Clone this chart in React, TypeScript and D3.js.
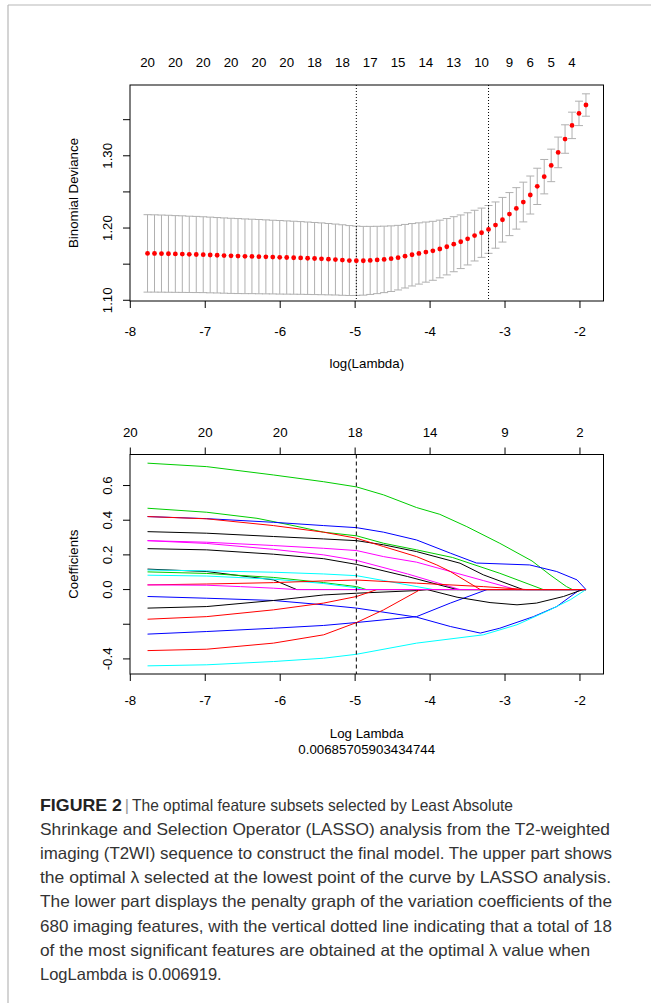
import React from 'react'
import * as d3 from 'd3'

// cross-validation curve (upper panel)
const cvLogLambda = [
  -7.77, -7.677, -7.584, -7.491, -7.399, -7.306, -7.213, -7.12, -7.027, -6.934,
  -6.841, -6.749, -6.656, -6.563, -6.47, -6.377, -6.284, -6.191, -6.099, -6.006,
  -5.913, -5.82, -5.727, -5.634, -5.541, -5.449, -5.356, -5.263, -5.17, -5.077,
  -4.984, -4.891, -4.799, -4.706, -4.613, -4.52, -4.427, -4.334, -4.241, -4.149,
  -4.056, -3.963, -3.87, -3.777, -3.684, -3.591, -3.499, -3.406, -3.313, -3.22,
  -3.127, -3.034, -2.941, -2.849, -2.756, -2.663, -2.57, -2.477, -2.384, -2.291,
  -2.199, -2.106, -2.013, -1.92,
]
const cvMean = [
  1.1649, 1.1648, 1.1646, 1.1644, 1.1641, 1.1639, 1.1636, 1.1634, 1.1631, 1.1627,
  1.1623, 1.1619, 1.1615, 1.1612, 1.1609, 1.1607, 1.1604, 1.1601, 1.1598, 1.1595,
  1.1592, 1.1589, 1.1586, 1.1582, 1.1578, 1.1574, 1.1569, 1.1564, 1.1557, 1.155,
  1.1547, 1.1547, 1.1552, 1.1558, 1.1566, 1.1576, 1.159, 1.161, 1.163, 1.1648,
  1.1667, 1.1685, 1.171, 1.1741, 1.1776, 1.181, 1.185, 1.1895, 1.1935, 1.1981,
  1.2041, 1.2115, 1.2193, 1.2272, 1.236, 1.2457, 1.2577, 1.2711, 1.2867, 1.3047,
  1.3232, 1.3421, 1.3587, 1.3703,
]
const cvSE = [
  0.0536, 0.0535, 0.0534, 0.0533, 0.0531, 0.053, 0.0528, 0.0527, 0.0525, 0.0524,
  0.0522, 0.0521, 0.052, 0.0519, 0.0517, 0.0515, 0.0514, 0.0512, 0.051, 0.0509,
  0.0507, 0.0505, 0.0503, 0.0501, 0.0499, 0.0497, 0.0494, 0.0491, 0.0488, 0.0484,
  0.048, 0.0476, 0.0471, 0.0466, 0.046, 0.0454, 0.0447, 0.044, 0.0432, 0.0424,
  0.0416, 0.0408, 0.0399, 0.039, 0.0381, 0.0371, 0.0361, 0.0351, 0.0341, 0.0331,
  0.032, 0.0309, 0.0298, 0.0287, 0.0275, 0.0263, 0.0251, 0.0238, 0.0225, 0.0212,
  0.0197, 0.0183, 0.0169, 0.0155,
]
const cvTopIdx = [0, 4, 8, 12, 16, 20, 24, 28, 32, 36, 40, 44, 48, 52, 55, 58, 61]
const cvTopLabels = ['20', '20', '20', '20', '20', '20', '18', '18', '17', '15', '14', '13', '10', '9', '6', '5', '4']
const lambdaMinLog = -4.984
const lambda1seLog = -3.22
const cvYTicks = [1.1, 1.15, 1.2, 1.25, 1.3, 1.35]
const cvYTickLabels = ['1.10', '', '1.20', '', '1.30', '']

const xTicks = [-8, -7, -6, -5, -4, -3, -2]
const xTickLabels = ['-8', '-7', '-6', '-5', '-4', '-3', '-2']

// coefficient paths (lower panel), [log lambda, coefficient]
const coefTopLabels = ['20', '20', '20', '18', '14', '9', '2']
const coefYTicks = [-0.4, -0.2, 0, 0.2, 0.4, 0.6]
const coefYTickLabels = ['-0.4', '', '0.0', '0.2', '0.4', '0.6']

const coefPaths: [number, number][][] = [
  [[-7.77, 0.729], [-6.98, 0.709], [-6.09, 0.661], [-5.42, 0.622], [-4.98, 0.592], [-4.62, 0.546], [-4.18, 0.473], [-3.87, 0.434], [-3.51, 0.363], [-3.07, 0.267], [-2.64, 0.165], [-2.4, 0.085], [-2.18, 0.017], [-2.1, 0], [-1.92, 0]],
  [[-7.77, 0.469], [-6.98, 0.446], [-6.31, 0.411], [-5.87, 0.373], [-5.42, 0.331], [-4.98, 0.31], [-4.62, 0.267], [-4.18, 0.229], [-3.7, 0.185], [-3.07, 0.094], [-2.49, 0], [-1.92, 0]],
  [[-7.77, 0.421], [-6.98, 0.409], [-6.09, 0.388], [-5.42, 0.369], [-4.98, 0.357], [-4.62, 0.331], [-4.18, 0.286], [-3.73, 0.21], [-3.38, 0.153], [-2.67, 0.142], [-2.31, 0.104], [-2.04, 0.056], [-1.92, 0]],
  [[-7.77, 0.334], [-6.98, 0.325], [-6.09, 0.306], [-5.42, 0.292], [-4.98, 0.282], [-4.62, 0.258], [-4.18, 0.219], [-3.6, 0.152], [-3.29, 0.085], [-2.76, 0], [-1.92, 0]],
  [[-7.77, 0.282], [-6.98, 0.273], [-6.09, 0.254], [-5.42, 0.238], [-4.98, 0.225], [-4.62, 0.19], [-4.18, 0.158], [-3.29, 0.052], [-2.85, 0], [-1.92, 0]],
  [[-7.77, 0.282], [-6.98, 0.266], [-6.09, 0.232], [-5.42, 0.2], [-4.98, 0.168], [-4.3, 0.09], [-3.6, 0], [-1.92, 0]],
  [[-7.77, 0.236], [-6.98, 0.229], [-6.09, 0.204], [-5.42, 0.178], [-4.98, 0.145], [-4.3, 0.075], [-3.64, 0], [-1.92, 0]],
  [[-7.77, 0.118], [-6.98, 0.104], [-6.09, 0.056], [-5.78, 0], [-1.92, 0]],
  [[-7.77, 0.102], [-6.98, 0.093], [-6.09, 0.07], [-5.42, 0.04], [-4.98, 0.017], [-4.85, 0], [-1.92, 0]],
  [[-7.77, 0.113], [-6.98, 0.108], [-6.09, 0.1], [-5.42, 0.09], [-4.98, 0.08], [-4.62, 0.052], [-3.96, 0], [-1.92, 0]],
  [[-7.77, 0.083], [-6.98, 0.078], [-6.09, 0.06], [-5.42, 0.035], [-4.98, 0.01], [-4.9, 0], [-1.92, 0]],
  [[-7.77, 0.027], [-6.98, 0.032], [-6.09, 0.04], [-5.42, 0.05], [-4.98, 0.055], [-4.18, 0.037], [-3.29, 0.017], [-2.71, 0], [-1.92, 0]],
  [[-7.77, -0.04], [-6.98, -0.05], [-6.09, -0.063], [-5.42, -0.088], [-4.98, -0.107], [-4.18, -0.159], [-3.73, -0.213], [-3.33, -0.251], [-3.07, -0.223], [-2.62, -0.156], [-2.31, -0.098], [-2.0, 0], [-1.92, 0]],
  [[-7.77, -0.257], [-6.98, -0.242], [-6.09, -0.223], [-5.42, -0.207], [-4.98, -0.19], [-4.18, -0.156], [-3.73, -0.078], [-3.24, 0], [-1.92, 0]],
  [[-7.77, -0.107], [-6.98, -0.098], [-6.09, -0.063], [-5.42, -0.031], [-4.98, -0.021], [-4.18, -0.006], [-4.04, 0], [-3.64, -0.044], [-3.2, -0.075], [-2.84, -0.088], [-2.58, -0.078], [-2.22, -0.04], [-1.96, 0], [-1.92, 0]],
  [[-7.77, -0.44], [-6.98, -0.434], [-6.09, -0.415], [-5.42, -0.396], [-4.98, -0.373], [-4.18, -0.309], [-3.29, -0.261], [-2.84, -0.203], [-2.4, -0.117], [-2.13, -0.059], [-1.92, 0]],
  [[-7.77, -0.171], [-6.98, -0.156], [-6.09, -0.117], [-5.42, -0.078], [-4.98, -0.04], [-4.71, 0], [-1.92, 0]],
  [[-7.77, -0.352], [-6.98, -0.344], [-6.09, -0.309], [-5.42, -0.261], [-4.98, -0.19], [-4.62, -0.117], [-4.13, 0], [-1.92, 0]],
  [[-7.77, 0.027], [-6.98, 0.025], [-6.53, 0.017], [-6.09, 0.008], [-5.78, 0], [-1.92, 0]],
  [[-7.77, 0.421], [-6.98, 0.408], [-6.09, 0.369], [-5.42, 0.331], [-4.98, 0.296], [-4.62, 0.248], [-4.18, 0.19], [-3.91, 0.142], [-3.73, 0.104], [-3.33, 0], [-1.92, 0]],
]
const pathColors = [
  '#00cd00', '#00cd00', '#0000ff', '#000000', '#ff00ff', '#ff00ff', '#000000', '#000000', '#00cd00', '#00ffff',
  '#00ffff', '#ff0000', '#0000ff', '#0000ff', '#000000', '#00ffff', '#ff0000', '#ff0000', '#ff00ff', '#ff0000',
]

const captionHead = 'FIGURE 2'
const captionFirst = 'The optimal feature subsets selected by Least Absolute'
const captionLines = [
  'Shrinkage and Selection Operator (LASSO) analysis from the T2-weighted',
  'imaging (T2WI) sequence to construct the final model. The upper part shows',
  'the optimal \u03bb selected at the lowest point of the curve by LASSO analysis.',
  'The lower part displays the penalty graph of the variation coefficients of the',
  '680 imaging features, with the vertical dotted line indicating that a total of 18',
  'of the most significant features are obtained at the optimal \u03bb value when',
  'LogLambda is 0.006919.',
]
// measured widths of the caption lines in the reference (0 = natural)
const captionWidths = [570, 572, 571, 572, 572, 550, 0]

const W = 651
const H = 1003
const FONT = '"Liberation Sans", Arial, Helvetica, sans-serif'
const left = 130
const right = 603.5

export default function App() {
  const x = d3.scaleLinear().domain([-8.004, -1.686]).range([left, right])
  const yCv = d3.scaleLinear().domain([1.099, 1.398]).range([301, 85])
  const yCf = d3.scaleLinear().domain([-0.487, 0.779]).range([674, 454.5])
  const coefLine = d3
    .line<[number, number]>()
    .x((d) => x(d[0]))
    .y((d) => yCf(d[1]))

  const fs = 13.3
  const cap = 4

  const panelAxes = (y: d3.ScaleLinear<number, number>, yTicks: number[], yLabels: string[], top: number, bottom: number, xLabelY: number) => (
    <g>
      <rect x={left} y={top} width={right - left} height={bottom - top} fill="none" stroke="#000" strokeWidth={1} />
      {xTicks.map((t, i) => (
        <g key={'xt' + i}>
          <line x1={x(t)} x2={x(t)} y1={bottom} y2={bottom + 7} stroke="#000" />
          <text x={x(t)} y={xLabelY} textAnchor="middle" fontSize={fs}>
            {xTickLabels[i]}
          </text>
        </g>
      ))}
      {yTicks.map((t, i) => (
        <g key={'yt' + i}>
          <line x1={left - 7} x2={left} y1={y(t)} y2={y(t)} stroke="#000" />
          {yLabels[i] && (
            <text transform={`translate(111.5,${y(t)}) rotate(-90)`} textAnchor="middle" fontSize={fs}>
              {yLabels[i]}
            </text>
          )}
        </g>
      ))}
    </g>
  )

  return (
    <svg width={W} height={H} style={{ position: 'absolute', left: 0, top: 0, background: '#fff' }} fontFamily={FONT}>
      <rect width={W} height={H} fill="#fff" />
      <line x1={8} x2={W} y1={5} y2={5} stroke="#b8b8b8" strokeWidth={1.2} />
      <line x1={8} x2={8} y1={5} y2={H} stroke="#b8b8b8" strokeWidth={1.2} />

      {/* upper panel: CV binomial deviance */}
      {panelAxes(yCv, cvYTicks, cvYTickLabels, 85, 301, 335.8)}
      {cvTopIdx.map((idx, i) => (
        <text key={'ct' + i} x={x(cvLogLambda[idx])} y={66.8} textAnchor="middle" fontSize={fs}>
          {cvTopLabels[i]}
        </text>
      ))}
      {cvLogLambda.map((v, i) => {
        const up = yCv(cvMean[i] + cvSE[i])
        const lo = yCv(cvMean[i] - cvSE[i])
        return (
          <g key={'eb' + i} stroke="#b0b0b0" strokeWidth={1}>
            <line x1={x(v)} x2={x(v)} y1={up} y2={lo} />
            <line x1={x(v) - cap} x2={x(v) + cap} y1={up} y2={up} />
            <line x1={x(v) - cap} x2={x(v) + cap} y1={lo} y2={lo} />
          </g>
        )
      })}
      {[lambdaMinLog, lambda1seLog].map((v, i) => (
        <line key={'vl' + i} x1={x(v)} x2={x(v)} y1={85} y2={301} stroke="#000" strokeWidth={1} strokeDasharray="1 2" />
      ))}
      {cvLogLambda.map((v, i) => (
        <circle key={'pt' + i} cx={x(v)} cy={yCv(cvMean[i])} r={2.4} fill="#ff0000" />
      ))}
      <text x={(left + right) / 2} y={367.5} textAnchor="middle" fontSize={fs}>
        log(Lambda)
      </text>
      <text transform={`translate(78,${(85 + 301) / 2}) rotate(-90)`} textAnchor="middle" fontSize={fs}>
        Binomial Deviance
      </text>

      {/* lower panel: coefficient paths */}
      {panelAxes(yCf, coefYTicks, coefYTickLabels, 454.5, 674, 704.8)}
      {xTicks.map((t, i) => (
        <g key={'tt' + i}>
          <line x1={x(t)} x2={x(t)} y1={454.5} y2={447.5} stroke="#000" />
          <text x={x(t)} y={436.8} textAnchor="middle" fontSize={fs}>
            {coefTopLabels[i]}
          </text>
        </g>
      ))}
      {coefPaths.map((p, i) => (
        <path key={'cp' + i} d={coefLine(p) || ''} fill="none" stroke={pathColors[i]} strokeWidth={1} />
      ))}
      <line x1={x(lambdaMinLog)} x2={x(lambdaMinLog)} y1={454.5} y2={674} stroke="#000" strokeDasharray="4 3" />
      <text x={(left + right) / 2} y={737.5} textAnchor="middle" fontSize={fs}>
        Log Lambda
      </text>
      <text x={(left + right) / 2} y={753.8} textAnchor="middle" fontSize={fs}>
        0.00685705903434744
      </text>
      <text transform={`translate(78,${(454.5 + 674) / 2}) rotate(-90)`} textAnchor="middle" fontSize={fs}>
        Coefficients
      </text>

      {/* caption */}
      <g fontSize={16.5} fill="#333">
        <text x={40} y={811} fontWeight="bold" fill="#222" textLength={82} lengthAdjust="spacingAndGlyphs">
          {captionHead}
        </text>
        <text x={127} y={811} fill="#999" textAnchor="middle">
          |
        </text>
        <text x={132} y={811} textLength={381} lengthAdjust="spacingAndGlyphs">
          {captionFirst}
        </text>
        {captionLines.map((l, i) => (
          <text
            key={'cl' + i}
            x={40}
            y={811 + (i + 1) * 24.1}
            {...(captionWidths[i] ? { textLength: captionWidths[i], lengthAdjust: 'spacingAndGlyphs' } : {})}
          >
            {l}
          </text>
        ))}
      </g>
    </svg>
  )
}
